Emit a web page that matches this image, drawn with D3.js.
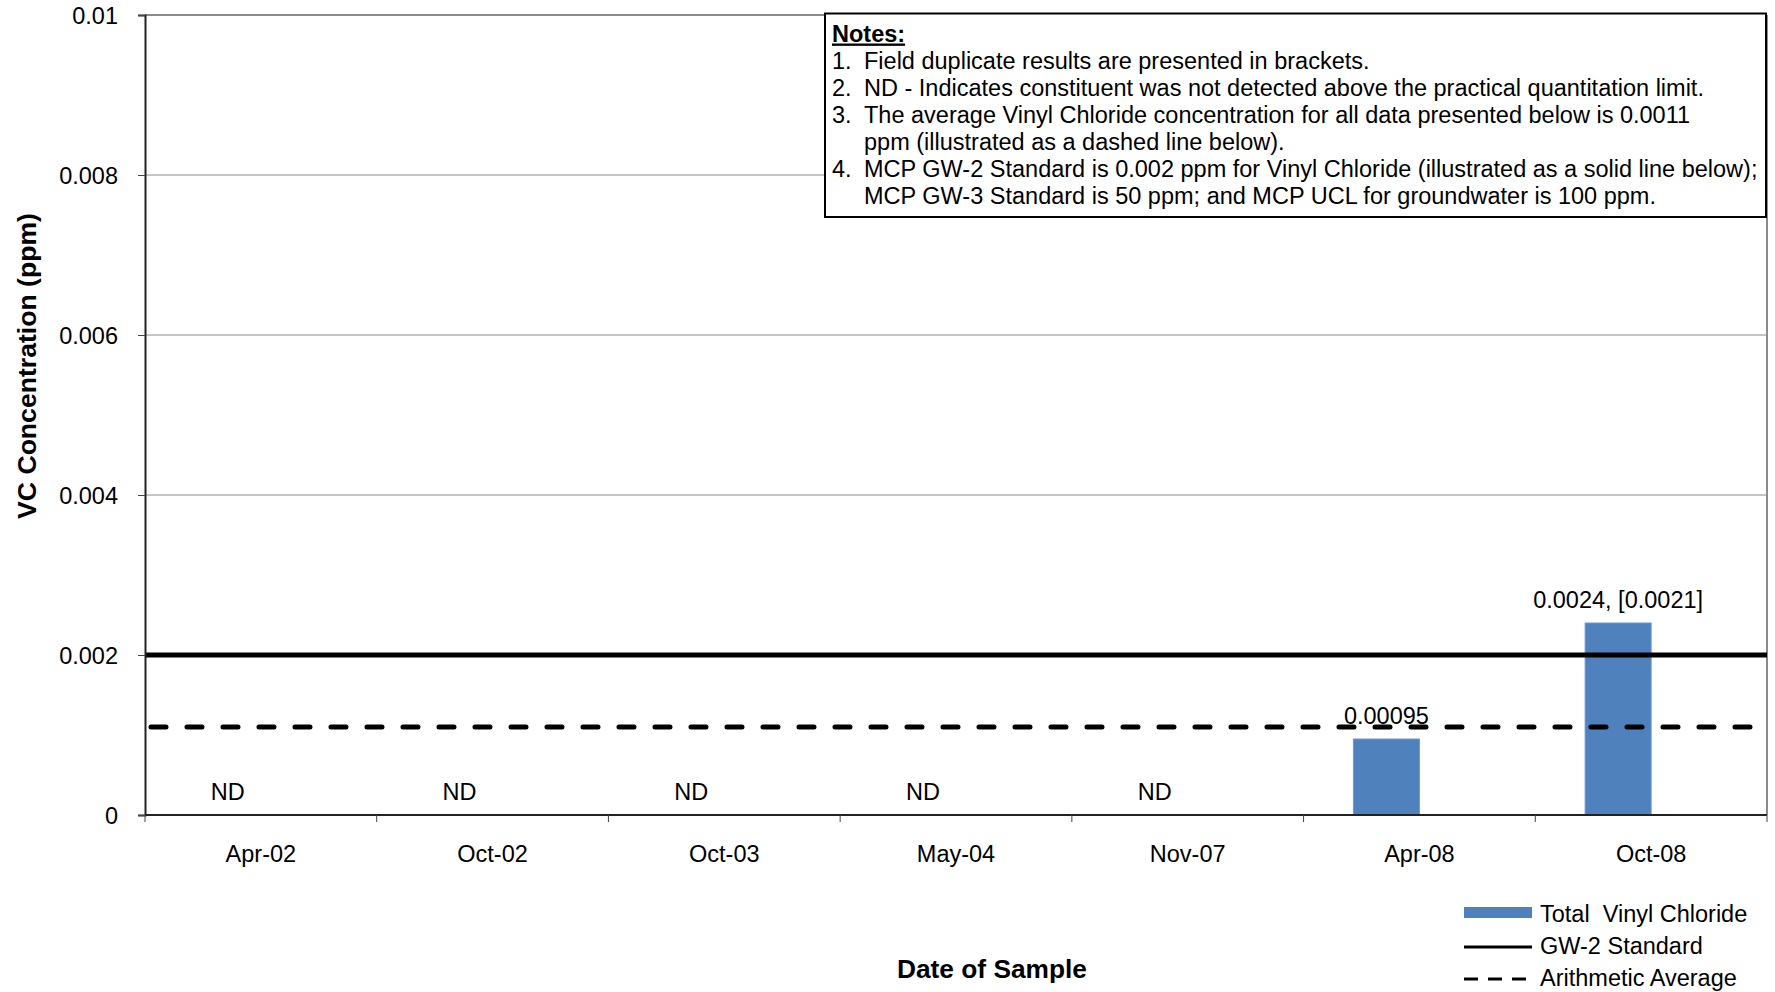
<!DOCTYPE html>
<html>
<head>
<meta charset="utf-8">
<script src="https://cdn.jsdelivr.net/npm/d3@7"></script>
<style>
  html, body { margin: 0; padding: 0; background: #fff; }
  svg { display: block; font-family: "Liberation Sans", Arial, sans-serif; }
  svg text { white-space: pre; }
</style>
</head>
<body>
<svg id="chart" width="1775" height="992"></svg>
<script>
// ---------- data ----------
const categories = ["Apr-02", "Oct-02", "Oct-03", "May-04", "Nov-07", "Apr-08", "Oct-08"];
const vcValues = [null, null, null, null, null, 0.00095, 0.0024];
const pointLabels = ["ND", "ND", "ND", "ND", "ND", "0.00095", "0.0024, [0.0021]"];
const seriesSlots = ["Total  Vinyl Chloride", "Field Duplicate"];
const gw2Standard = 0.002;
const arithmeticAverage = 0.0011;
const yTickValues = [0, 0.002, 0.004, 0.006, 0.008, 0.01];
const noteLines = [
  ["1.", "Field duplicate results are presented in brackets."],
  ["2.", "ND - Indicates constituent was not detected above the practical quantitation limit."],
  ["3.", "The average Vinyl Chloride concentration for all data presented below is 0.0011"],
  ["", "ppm (illustrated as a dashed line below)."],
  ["4.", "MCP GW-2 Standard is 0.002 ppm for Vinyl Chloride (illustrated as a solid line below);"],
  ["", "MCP GW-3 Standard is 50 ppm; and MCP UCL for groundwater is 100 ppm."]
];
const legendItems = [
  { label: "Total  Vinyl Chloride", type: "bar" },
  { label: "GW-2 Standard", type: "solid" },
  { label: "Arithmetic Average", type: "dashed" }
];

// ---------- layout ----------
const plot = { left: 145, right: 1767, top: 15, bottom: 815 };
const barColor = "#4F81BD";
const fontSize = 23.5;

const svg = d3.select("#chart");

const x = d3.scaleBand().domain(categories).range([plot.left, plot.right]).padding(0);
const xSub = d3.scaleBand().domain(seriesSlots).range([0, x.bandwidth()])
  .paddingInner(0).paddingOuter(0.755);
const y = d3.scaleLinear().domain([0, 0.01]).range([plot.bottom, plot.top]);

const fmt = v => String(+v.toFixed(3));

// gridlines
svg.append("g")
  .selectAll("line")
  .data(yTickValues.filter(v => v > 0))
  .join("line")
  .attr("x1", plot.left).attr("x2", plot.right)
  .attr("y1", d => y(d)).attr("y2", d => y(d))
  .attr("stroke", "#8a8a8a")
  .attr("stroke-width", d => d === 0.01 ? 2 : 1);

// right border
svg.append("line")
  .attr("x1", plot.right).attr("x2", plot.right)
  .attr("y1", y(0.01)).attr("y2", y(0))
  .attr("stroke", "#8a8a8a").attr("stroke-width", 2);

// bars
const data = categories.map((c, i) => ({ cat: c, value: vcValues[i], label: pointLabels[i] }));
svg.append("g")
  .selectAll("rect")
  .data(data.filter(d => d.value != null))
  .join("rect")
  .attr("x", d => x(d.cat) + xSub(seriesSlots[0]))
  .attr("width", xSub.bandwidth())
  .attr("y", d => y(d.value))
  .attr("height", d => y(0) - y(d.value))
  .attr("fill", barColor)
  .attr("stroke", "#6f97cc")
  .attr("stroke-width", 1);

// point labels
svg.append("g")
  .selectAll("text")
  .data(data)
  .join("text")
  .attr("x", d => x(d.cat) + xSub(seriesSlots[0]) + xSub.bandwidth() / 2)
  .attr("y", d => y(d.value == null ? 0 : d.value) - 15.5)
  .attr("text-anchor", "middle")
  .attr("font-size", fontSize)
  .attr("fill", "#000")
  .text(d => d.label);

// reference lines
svg.append("line")
  .attr("x1", plot.left).attr("x2", plot.right)
  .attr("y1", y(gw2Standard)).attr("y2", y(gw2Standard))
  .attr("stroke", "#000").attr("stroke-width", 5);

svg.append("line")
  .attr("x1", plot.left + 2).attr("x2", plot.right)
  .attr("y1", y(arithmeticAverage)).attr("y2", y(arithmeticAverage))
  .attr("stroke", "#000").attr("stroke-width", 5)
  .attr("stroke-linecap", "round")
  .attr("stroke-dasharray", "15 21")
  .attr("stroke-dashoffset", -4);

// y axis
const yAxis = svg.append("g")
  .attr("transform", `translate(${plot.left},0)`)
  .call(d3.axisLeft(y).tickValues(yTickValues).tickSize(7).tickPadding(20).tickFormat(fmt));
yAxis.select(".domain").attr("stroke", "#222").attr("stroke-width", 2);
yAxis.selectAll(".tick line").attr("stroke", "#444");
yAxis.selectAll(".tick text")
  .attr("font-size", fontSize)
  .attr("font-family", "'Liberation Sans', Arial, sans-serif")
  .attr("fill", "#000")
  .attr("dy", "0.38em");

// x axis (ticks at category boundaries)
const xAxis = svg.append("g");
xAxis.append("line")
  .attr("x1", plot.left).attr("x2", plot.right)
  .attr("y1", y(0)).attr("y2", y(0))
  .attr("stroke", "#222").attr("stroke-width", 2);
const boundaries = categories.map(c => x(c)).concat([x.range()[1]]);
xAxis.selectAll("line.tick")
  .data(boundaries)
  .join("line")
  .attr("class", "tick")
  .attr("x1", d => d).attr("x2", d => d)
  .attr("y1", y(0)).attr("y2", y(0) + 7)
  .attr("stroke", "#444").attr("stroke-width", 1);
xAxis.selectAll("text")
  .data(categories)
  .join("text")
  .attr("x", d => x(d) + x.bandwidth() / 2)
  .attr("y", y(0) + 47)
  .attr("text-anchor", "middle")
  .attr("font-size", fontSize)
  .attr("fill", "#000")
  .text(d => d);

// axis titles
svg.append("text")
  .attr("transform", "translate(36,366) rotate(-90)")
  .attr("text-anchor", "middle")
  .attr("font-size", 26.6)
  .attr("font-weight", "bold")
  .text("VC Concentration (ppm)");

svg.append("text")
  .attr("x", 992).attr("y", 978)
  .attr("text-anchor", "middle")
  .attr("font-size", 26.3)
  .attr("font-weight", "bold")
  .text("Date of Sample");

// notes box
const notes = svg.append("g");
notes.append("rect")
  .attr("x", 825).attr("y", 13.5)
  .attr("width", 941).attr("height", 203.5)
  .attr("fill", "#fff").attr("stroke", "#000").attr("stroke-width", 2);
notes.append("text")
  .attr("x", 832).attr("y", 41.5)
  .attr("font-size", fontSize)
  .attr("font-weight", "bold")
  .attr("text-decoration", "underline")
  .text("Notes:");
noteLines.forEach((ln, i) => {
  const yy = 68.5 + i * 27;
  if (ln[0]) notes.append("text").attr("x", 832).attr("y", yy).attr("font-size", fontSize).text(ln[0]);
  notes.append("text").attr("x", 864).attr("y", yy).attr("font-size", fontSize).text(ln[1]);
});

// legend
const legend = svg.append("g");
legendItems.forEach((it, i) => {
  const base = 922 + i * 32;
  const g = legend.append("g");
  if (it.type === "bar") {
    g.append("rect").attr("x", 1464).attr("y", base - 15).attr("width", 68).attr("height", 11).attr("fill", barColor);
  } else {
    g.append("line")
      .attr("x1", 1464).attr("x2", it.type === "dashed" ? 1526 : 1532)
      .attr("y1", base - 7).attr("y2", base - 7)
      .attr("stroke", "#000").attr("stroke-width", 3)
      .attr("stroke-dasharray", it.type === "dashed" ? "14 10" : null);
  }
  g.append("text").attr("x", 1540).attr("y", base).attr("font-size", fontSize).text(it.label);
});
</script>
</body>
</html>
